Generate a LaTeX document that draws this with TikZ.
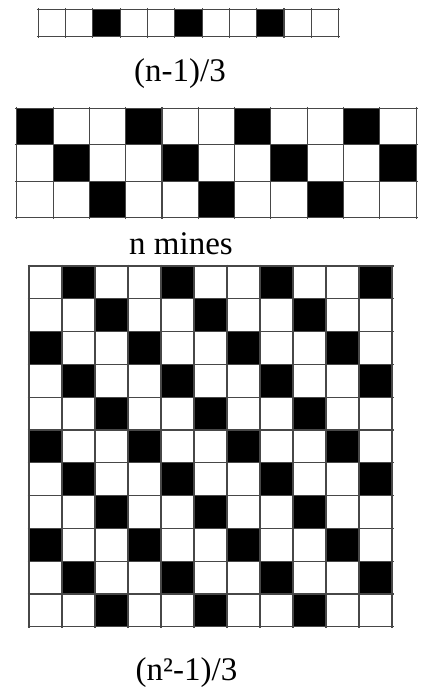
\documentclass[tikz,border=0pt]{standalone}
\usepackage{fontspec}
\setmainfont{Liberation Serif}
\newcommand{\drawminegrid}[7]{%
  \foreach \r in {1,...,#6}{%
    \foreach \c in {1,...,#5}{%
      \pgfmathtruncatemacro{\m}{mod(\c-\r-#7+300,3)}%
      \ifnum\m=0
        \fill[mine] ({#1+(\c-1)*#3},{#2+(\r-1)*#4}) rectangle ++(#3,#4);
      \fi
    }%
  }%
  \foreach \c in {0,...,#5}{%
    \draw[gridline] ({#1+\c*#3},{#2-1.5}) -- ++(0,{#4*#6+3});
  }%
  \foreach \r in {0,...,#6}{%
    \draw[gridline] ({#1-1.5},{#2+\r*#4}) -- ++({#3*#5+3},0);
  }%
}
\begin{document}
\begin{tikzpicture}[x=1pt,y=-1pt,
  gridline/.style={draw=black!72, line width=1.1pt},
  mine/.style={fill=black},
  lbl/.style={font=\fontsize{33}{40}\selectfont, inner sep=0pt, anchor=base}]
\useasboundingbox (0,0) rectangle (426,688);
\fill[white] (0,0) rectangle (426,688);
% top strip
\drawminegrid{38.3}{9.5}{27.3}{27}{11}{1}{2}
\node[lbl] (topLabel) at (180,81) {(n-1)/3};
% middle grid
\drawminegrid{16.8}{108.3}{36.3}{36.5}{11}{3}{0}
\node[lbl] (midLabel) at (181,254) {n mines};
% big grid
\drawminegrid{29}{266}{33}{32.8}{11}{11}{1}
\node[lbl] (botLabel) at (186.5,680) {(n²-1)/3};
\end{tikzpicture}
\end{document}
